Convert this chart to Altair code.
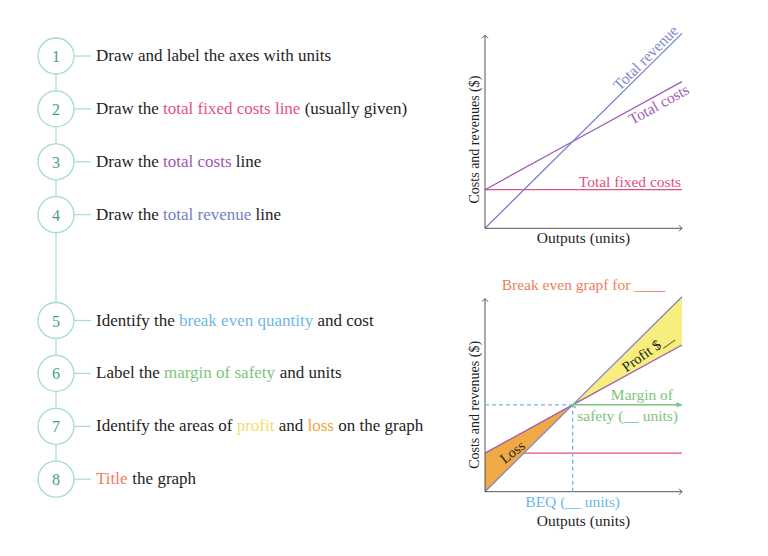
import altair as alt
import pandas as pd
import numpy as np

FONT = "Liberation Serif"
INK = "#1e1e1e"

# ------------------------------------------------------------------ data
step_numbers = [1, 2, 3, 4, 5, 6, 7, 8]
step_texts = [
    [("Draw and label the axes with units", "ink")],
    [("Draw the ", "ink"), ("total fixed costs line", "pink"), (" (usually given)", "ink")],
    [("Draw the ", "ink"), ("total costs", "purple"), (" line", "ink")],
    [("Draw the ", "ink"), ("total revenue", "blue"), (" line", "ink")],
    [("Identify the ", "ink"), ("break even quantity", "sky"), (" and cost", "ink")],
    [("Label the ", "ink"), ("margin of safety", "green"), (" and units", "ink")],
    [("Identify the areas of ", "ink"), ("profit", "yellow"), (" and ", "ink"),
     ("loss", "orange"), (" on the graph", "ink")],
    [("Title", "salmon"), (" the graph", "ink")],
]

outputs = [0, 4.45, 10]          # units
total_revenue = [0, 4.5, 10.1]   # $
total_costs = [2, 4.5, 7.6]      # $
fixed_costs = [2, 2, 2]          # $

PALETTE = {
    "ink": INK, "pink": "#e8507f", "purple": "#9e58b3", "blue": "#7480c6",
    "sky": "#6cb9e7", "green": "#7dc47b", "yellow": "#f3e070", "orange": "#f0a53d",
    "salmon": "#ee7d5e",
}
RING = "#a3dcd2"
NUM = "#43a090"
TR_COL = "#7d85c8"
TC_COL = "#9e5cb4"
TFC_COL = "#e2507f"
AXIS_COL = "#555555"
BEQ_COL = "#6cb9e7"
MOS_COL = "#7dc47b"
PROFIT_FILL = "#f7ee7e"
LOSS_FILL = "#efaa46"
TITLE_COL = "#ee7d5e"

# ------------------------------------------------------------------ layout
PAGE0 = 13.0            # page position of the top-left panel
LEFT_W = 442
RIGHT_W = 246
ROW1_H = 250
ROW2_H = 277
STEP_Y0 = 56.0          # page y of first step
STEP_PITCH = 52.9
ORIGIN_X = 485.0        # page x of chart origin
PX_X = 19.7
PX_Y = 19.3
TOP_ORIGIN_Y = 228.3
BOT_ORIGIN_Y = 491.7
LABEL_SIZE = 15.5

# Times / Liberation Serif advance widths (1/1000 em)
W = {" ": 250, "(": 333, ")": 333, "$": 500, "_": 500,
     "a": 444, "b": 500, "c": 444, "d": 500, "e": 444, "f": 333, "g": 500, "h": 500,
     "i": 278, "j": 278, "k": 500, "l": 278, "m": 778, "n": 500, "o": 500, "p": 500,
     "q": 500, "r": 333, "s": 389, "t": 278, "u": 500, "v": 500, "w": 722, "x": 500,
     "y": 500, "z": 444, "D": 722, "I": 333, "L": 611, "T": 611}


def tw(s, size):
    return sum(W.get(c, 500) for c in s) * size / 1000.0


STEP_SIZE = 17
TEXT_X0 = 96 - PAGE0

rows = []
for n, segs in zip(step_numbers, step_texts):
    slot = n + (1 if n > 4 else 0)
    acc = 0.0
    for txt, col in segs:
        lead = len(txt) - len(txt.lstrip(" "))
        rows.append({"step": n, "slot": slot, "txt": txt.strip(" "),
                     "col": PALETTE[col],
                     "xpos": TEXT_X0 + acc + tw(txt[:lead], STEP_SIZE)})
        acc += tw(txt, STEP_SIZE)
seg_df = pd.DataFrame(rows)
steps_df = pd.DataFrame({"step": step_numbers,
                         "slot": [n + (1 if n > 4 else 0) for n in step_numbers]})
spine_df = pd.DataFrame({"y": [steps_df.slot.min()], "y2": [steps_df.slot.max()]})


def step_panel(page_top, height, sel):
    s_top = 1 + (page_top - STEP_Y0) / STEP_PITCH
    s_bot = 1 + (page_top + height - STEP_Y0) / STEP_PITCH
    ys = alt.Scale(domain=[s_top, s_bot], reverse=True, nice=False, zero=False)
    sdf = steps_df[steps_df.step.isin(sel)]
    tdf = seg_df[seg_df.step.isin(sel)]
    cx = 56 - PAGE0
    spine = alt.Chart(spine_df).mark_rule(color=RING, strokeWidth=1.2, clip=True).encode(
        x=alt.value(cx), y=alt.Y("y:Q", scale=ys, axis=None), y2="y2:Q")
    conn = alt.Chart(sdf).mark_rule(color=RING, strokeWidth=1.2).encode(
        x=alt.value(cx + 18), x2=alt.value(91 - PAGE0), y=alt.Y("slot:Q", scale=ys, axis=None))
    circ = alt.Chart(sdf).mark_point(shape="circle", size=1296, filled=True, fill="white",
                                     stroke=RING, strokeWidth=1.3, opacity=1).encode(
        x=alt.value(cx), y=alt.Y("slot:Q", scale=ys, axis=None))
    num = alt.Chart(sdf).mark_text(font=FONT, fontSize=16, color=NUM, baseline="middle",
                                   align="center", dy=1).encode(
        x=alt.value(cx), y=alt.Y("slot:Q", scale=ys, axis=None), text="step:N")
    txt = alt.Chart(tdf).mark_text(font=FONT, fontSize=STEP_SIZE, align="left",
                                   baseline="alphabetic", dy=5).encode(
        x=alt.X("xpos:Q", scale=None), y=alt.Y("slot:Q", scale=ys, axis=None),
        text="txt:N", color=alt.Color("col:N", scale=None))
    return alt.layer(spine, conn, circ, num, txt).properties(width=LEFT_W, height=height)


# ------------------------------------------------------------------ right charts
xmin = ((LEFT_W + PAGE0) - ORIGIN_X) / PX_X
xmax = xmin + RIGHT_W / PX_X


def scales(page_top, height, origin_y):
    ymax = (origin_y - page_top) / PX_Y
    ymin = ymax - height / PX_Y
    xs = alt.Scale(domain=[xmin, xmax], nice=False, zero=False)
    ys = alt.Scale(domain=[ymin, ymax], nice=False, zero=False)
    return xs, ys


ONE = pd.DataFrame({"_": [0]})


def ann(text, x, y, xs, ys, **kw):
    props = dict(font=FONT, fontSize=LABEL_SIZE, align="center", baseline="middle", color=INK)
    props.update(kw)
    return alt.Chart(ONE).mark_text(text=text, **props).encode(
        x=alt.X(datum=x, scale=xs, axis=None), y=alt.Y(datum=y, scale=ys, axis=None))


def base_layers(xs, ys):
    X = lambda f: alt.X(f, type="quantitative", scale=xs, axis=None)
    Y = lambda f: alt.Y(f, type="quantitative", scale=ys, axis=None)
    lines = pd.DataFrame({
        "output": outputs * 2,
        "value": total_costs + total_revenue,
        "series": ["tc"] * 3 + ["tr"] * 3,
        "col": [TC_COL] * 3 + [TR_COL] * 3,
    })
    tfc = pd.DataFrame({"output": outputs, "value": fixed_costs})
    axes = pd.DataFrame({"x": [0, 0], "y": [0, 0], "x2": [outputs[-1], 0], "y2": [0, 10]})
    tfc_l = alt.Chart(tfc).mark_line(color=TFC_COL, strokeWidth=1.3).encode(
        x=X("output"), y=Y("value"))
    line_l = alt.Chart(lines).mark_line(strokeWidth=1.3).encode(
        x=X("output"), y=Y("value"), detail="series:N", color=alt.Color("col:N", scale=None))
    ax_l = alt.Chart(axes).mark_rule(color=AXIS_COL, strokeWidth=1).encode(
        x=X("x"), y=Y("y"), x2="x2:Q", y2="y2:Q")
    arr_r = alt.Chart(ONE).mark_point(shape="M-1,-1L0,0L-1,1", size=36, filled=False,
                                      color=AXIS_COL, strokeWidth=1, opacity=1).encode(
        x=alt.X(datum=outputs[-1], scale=xs, axis=None), y=alt.Y(datum=0, scale=ys, axis=None))
    arr_u = alt.Chart(ONE).mark_point(shape="M-1,1L0,0L1,1", size=36, filled=False,
                                      color=AXIS_COL, strokeWidth=1, opacity=1).encode(
        x=alt.X(datum=0, scale=xs, axis=None), y=alt.Y(datum=10, scale=ys, axis=None))
    return tfc_l, line_l, ax_l, arr_r, arr_u


# top chart
xs1, ys1 = scales(PAGE0, ROW1_H, TOP_ORIGIN_Y)
tfc1, lines1, ax1, ar1, au1 = base_layers(xs1, ys1)
tr_at = lambda x: float(np.interp(x, outputs, total_revenue))
tc_at = lambda x: float(np.interp(x, outputs, total_costs))
top = alt.layer(
    tfc1, lines1, ax1, ar1, au1,
    ann("Total revenue", 8.45, tr_at(8.45), xs1, ys1, color=TR_COL, angle=315,
        baseline="alphabetic", dy=-3),
    ann("Total costs", 8.6, tc_at(8.6), xs1, ys1, color=TC_COL, angle=331,
        baseline="top", dy=2),
    ann("Total fixed costs", outputs[-1], fixed_costs[-1], xs1, ys1, color=TFC_COL,
        align="right", baseline="alphabetic", dy=-3, dx=-1),
    ann("Costs and revenues ($)", -0.5, 4.6, xs1, ys1, angle=270, fontSize=14),
    ann("Outputs (units)", 5.0, -0.5, xs1, ys1),
).properties(width=RIGHT_W, height=ROW1_H)

# bottom chart
xs2, ys2 = scales(PAGE0 + ROW1_H, ROW2_H, BOT_ORIGIN_Y)
tfc2, lines2, ax2, ar2, au2 = base_layers(xs2, ys2)
areas = pd.DataFrame({
    "output": outputs[0:2] + outputs[1:3],
    "lo": total_costs[0:2] + total_revenue[1:3],
    "hi": total_revenue[0:2] + total_costs[1:3],
    "region": ["loss", "loss", "profit", "profit"],
    "col": [LOSS_FILL, LOSS_FILL, PROFIT_FILL, PROFIT_FILL],
})
area_l = alt.Chart(areas).mark_area(opacity=1).encode(
    x=alt.X("output:Q", scale=xs2, axis=None), y=alt.Y("lo:Q", scale=ys2, axis=None),
    y2="hi:Q", detail="region:N", color=alt.Color("col:N", scale=None))
beq_x, beq_y = outputs[1], total_revenue[1]
dash = pd.DataFrame({"x": [beq_x, 0], "y": [0, beq_y], "x2": [beq_x, beq_x], "y2": [beq_y, beq_y]})
dash_l = alt.Chart(dash).mark_rule(color=BEQ_COL, strokeWidth=1.3, strokeDash=[4, 3]).encode(
    x=alt.X("x:Q", scale=xs2, axis=None), y=alt.Y("y:Q", scale=ys2, axis=None),
    x2="x2:Q", y2="y2:Q")
mos = pd.DataFrame({"x": [beq_x], "x2": [outputs[-1]], "y": [beq_y]})
mos_l = alt.Chart(mos).mark_rule(color=MOS_COL, strokeWidth=1.5).encode(
    x=alt.X("x:Q", scale=xs2, axis=None), x2="x2:Q", y=alt.Y("y:Q", scale=ys2, axis=None))
mos_left = alt.Chart(ONE).mark_point(shape="M1,-1L0,0L1,1", size=40, filled=False,
                                     color=MOS_COL, strokeWidth=1.5, opacity=1).encode(
    x=alt.X(datum=beq_x, scale=xs2, axis=None), y=alt.Y(datum=beq_y, scale=ys2, axis=None))
mos_right = alt.Chart(ONE).mark_point(shape="M-2,-1L0,0L-2,1Z", size=30, filled=True,
                                      color=MOS_COL, opacity=1).encode(
    x=alt.X(datum=outputs[-1], scale=xs2, axis=None), y=alt.Y(datum=beq_y, scale=ys2, axis=None))

bottom = alt.layer(
    tfc2, area_l, lines2, ax2, ar2, au2, dash_l, mos_l, mos_left, mos_right,
    ann("Break even grapf for ____", 5.0, 10.69, xs2, ys2, color=TITLE_COL, fontSize=15.5),
    ann("Loss", 1.42, 2.02, xs2, ys2, angle=322, fontSize=14.5),
    ann("Profit $__", 8.27, 7.22, xs2, ys2, angle=325, fontSize=14.5),
    ann("Margin of", outputs[-1], beq_y, xs2, ys2, color=MOS_COL, align="right", dx=-9, dy=-10),
    ann("safety (__ units)", outputs[-1], beq_y, xs2, ys2, color=MOS_COL, align="right",
        dx=-4, dy=11),
    ann("BEQ (__ units)", beq_x, -0.53, xs2, ys2, color=BEQ_COL),
    ann("Costs and revenues ($)", -0.5, 4.5, xs2, ys2, angle=270, fontSize=14),
    ann("Outputs (units)", 5.0, -1.52, xs2, ys2),
).properties(width=RIGHT_W, height=ROW2_H)

left_top = step_panel(PAGE0, ROW1_H, [1, 2, 3, 4])
left_bot = step_panel(PAGE0 + ROW1_H, ROW2_H, [5, 6, 7, 8])

chart = alt.concat(left_top, top, left_bot, bottom, columns=2, spacing=0, bounds="flush"
                   ).configure_view(stroke=None).properties(background="white")

chart.save("out.html", embed_options={"renderer": "svg", "actions": False})
